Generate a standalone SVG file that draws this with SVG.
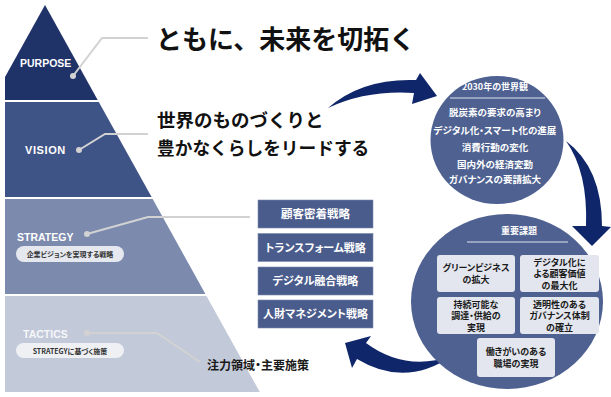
<svg xmlns="http://www.w3.org/2000/svg" width="611" height="397" viewBox="0 0 611 397">
<style>
.jp{font-family:"Noto Sans CJK JP","Noto Sans",sans-serif;font-weight:700;font-feature-settings:"palt";}
.en{font-family:"Liberation Sans",Arial,sans-serif;font-weight:700;fill:#fff;}
.wt{fill:#fff;}
.dk{fill:#1a1a1a;}
.lead{stroke:#d2d2d2;stroke-width:2;fill:none;}
.dot{fill:#d2d2d2;}
.arrow{fill:#10266a;}
.sbox{fill:#4a5c8c;stroke:#7d8bb0;stroke-width:0.6;}
.ibox{fill:#e3e6ee;}
.circle{fill:#4e6191;}
.pill{fill:#e6e8ef;}
.it{font-size:9px;text-anchor:middle;}
</style>
<rect width="611" height="397" fill="#fff"/>
<g id="pyramid">
<g id="purpose">
<polygon points="45,5 97.7,100 5,100 5,77" fill="#1f3369"/>
<text class="en" x="20" y="67" font-size="10.5">PURPOSE</text>
</g>
<g id="vision">
<polygon points="5,102 98.8,102 151.6,197 5,197" fill="#3f5486"/>
<text class="en" x="25" y="154" font-size="11" letter-spacing="0.6">VISION</text>
</g>
<g id="strategy">
<polygon points="5,199 152.7,199 205.4,294 5,294" fill="#7b8aad"/>
<text class="en" x="17" y="241" font-size="10.5">STRATEGY</text>
<rect class="pill" x="16" y="246" width="108" height="16" rx="8"/>
<text class="jp" x="70" y="257" font-size="7" text-anchor="middle" fill="#333" font-weight="400">企業ビジョンを実現する戦略</text>
</g>
<g id="tactics">
<polygon points="5,296 206.5,296 259.8,392 5,392" fill="#c2c9d9"/>
<text class="en" x="23" y="338" font-size="10.5" style="fill:#f6f7f9">TACTICS</text>
<rect class="pill" x="16" y="343" width="108" height="15" rx="7.5" style="fill:#eef0f4"/>
<text class="jp" x="70" y="353.5" font-size="7" text-anchor="middle" fill="#333" font-weight="400">STRATEGYに基づく施策</text>
</g>
</g>
<g id="connectors">
<polyline class="lead" points="73,76 102,38 148,38"/>
<circle class="dot" cx="73" cy="76" r="3"/>
<polyline class="lead" points="79,150 105,134 148,134"/>
<circle class="dot" cx="79" cy="150" r="3"/>
<polyline class="lead" points="87,234 148,217 250,217"/>
<circle class="dot" cx="87" cy="234" r="3"/>
<polyline class="lead" points="87,333 157,333 200,362"/>
<circle class="dot" cx="87" cy="333" r="3"/>
<path id="arrow-vision-world" class="arrow" d="M328 108 Q362 78 416 80 L420 73 L437 96 L412 104 L414 93 Q366 90 328 108 Z"/>
<path id="arrow-world-issues" class="arrow" d="M566 141 Q602 168 602 226 L611 227 L592 246 L572 226 L586 226 Q588 172 566 141 Z"/>
<path id="arrow-issues-strategy" class="arrow" d="M452 356 Q405 388 357 359 L352 368 L345 343 L371 336 L366 343 Q405 372 452 356 Z"/>
</g>
<g id="purpose-title">
<text class="jp" x="156" y="49" font-size="26" fill="#111" style="font-feature-settings:normal">ともに、未来を切拓く</text>
</g>
<g id="vision-title">
<text class="jp" x="157" y="127" font-size="18.5" fill="#111" style="font-feature-settings:normal">世界のものづくりと</text>
<text class="jp" x="157" y="155" font-size="17.7" fill="#111" style="font-feature-settings:normal">豊かなくらしをリードする</text>
</g>
<g id="strategies">
<g id="s1"><rect class="sbox" x="258" y="200" width="115" height="28"/><text class="jp wt" x="315.5" y="218" font-size="11.5" text-anchor="middle">顧客密着戦略</text></g>
<g id="s2"><rect class="sbox" x="258" y="233.5" width="115" height="28"/><text class="jp wt" x="315.5" y="251.5" font-size="11" text-anchor="middle">トランスフォーム戦略</text></g>
<g id="s3"><rect class="sbox" x="258" y="267" width="115" height="28"/><text class="jp wt" x="315.5" y="285" font-size="11" text-anchor="middle">デジタル融合戦略</text></g>
<g id="s4"><rect class="sbox" x="258" y="300" width="115" height="28"/><text class="jp wt" x="315.5" y="318" font-size="11" text-anchor="middle">人財マネジメント戦略</text></g>
</g>
<g id="tactics-label">
<text class="jp dk" x="207" y="370" font-size="12">注力領域・主要施策</text>
</g>
<g id="world-view">
<ellipse class="circle" cx="497" cy="140" rx="66.5" ry="64"/>
<text class="jp wt" x="495" y="90" font-size="9" text-anchor="middle">2030年の世界観</text>
<line x1="450" y1="98" x2="545" y2="98" stroke="#dfe3ec" stroke-width="1"/>
<text class="jp wt" x="495" y="116" font-size="9.5" text-anchor="middle">脱炭素の要求の高まり</text>
<text class="jp wt" x="495" y="134" font-size="9.5" text-anchor="middle">デジタル化・スマート化の進展</text>
<text class="jp wt" x="495" y="151" font-size="9.5" text-anchor="middle">消費行動の変化</text>
<text class="jp wt" x="495" y="168" font-size="9.5" text-anchor="middle">国内外の経済変動</text>
<text class="jp wt" x="495" y="183" font-size="9.5" text-anchor="middle">ガバナンスの要請拡大</text>
</g>
<g id="key-issues">
<ellipse class="circle" cx="507" cy="301.5" rx="96" ry="87.5"/>
<text class="jp wt" x="519" y="234" font-size="9" text-anchor="middle">重要課題</text>
<line x1="467" y1="242" x2="568" y2="242" stroke="#dfe3ec" stroke-width="1"/>
<g id="i1"><rect class="ibox" x="437" y="255" width="78" height="37" rx="3"/>
<text class="jp dk it" y="271"><tspan x="476">グリーンビジネス</tspan><tspan x="476" dy="12">の拡大</tspan></text></g>
<g id="i2"><rect class="ibox" x="520" y="255" width="79" height="37" rx="3"/>
<text class="jp dk it" y="265.5"><tspan x="559.5">デジタル化に</tspan><tspan x="559.5" dy="11.5">よる顧客価値</tspan><tspan x="559.5" dy="11.5">の最大化</tspan></text></g>
<g id="i3"><rect class="ibox" x="437" y="297" width="78" height="37" rx="3"/>
<text class="jp dk it" y="307.5"><tspan x="476">持続可能な</tspan><tspan x="476" dy="11.5">調達・供給の</tspan><tspan x="476" dy="11.5">実現</tspan></text></g>
<g id="i4"><rect class="ibox" x="520" y="297" width="79" height="37" rx="3"/>
<text class="jp dk it" y="307.5"><tspan x="559.5">透明性のある</tspan><tspan x="559.5" dy="11.5">ガバナンス体制</tspan><tspan x="559.5" dy="11.5">の確立</tspan></text></g>
<g id="i5"><rect class="ibox" x="477" y="338" width="78" height="39" rx="3"/>
<text class="jp dk it" y="355"><tspan x="516">働きがいのある</tspan><tspan x="516" dy="12">職場の実現</tspan></text></g>
</g>
</svg>
